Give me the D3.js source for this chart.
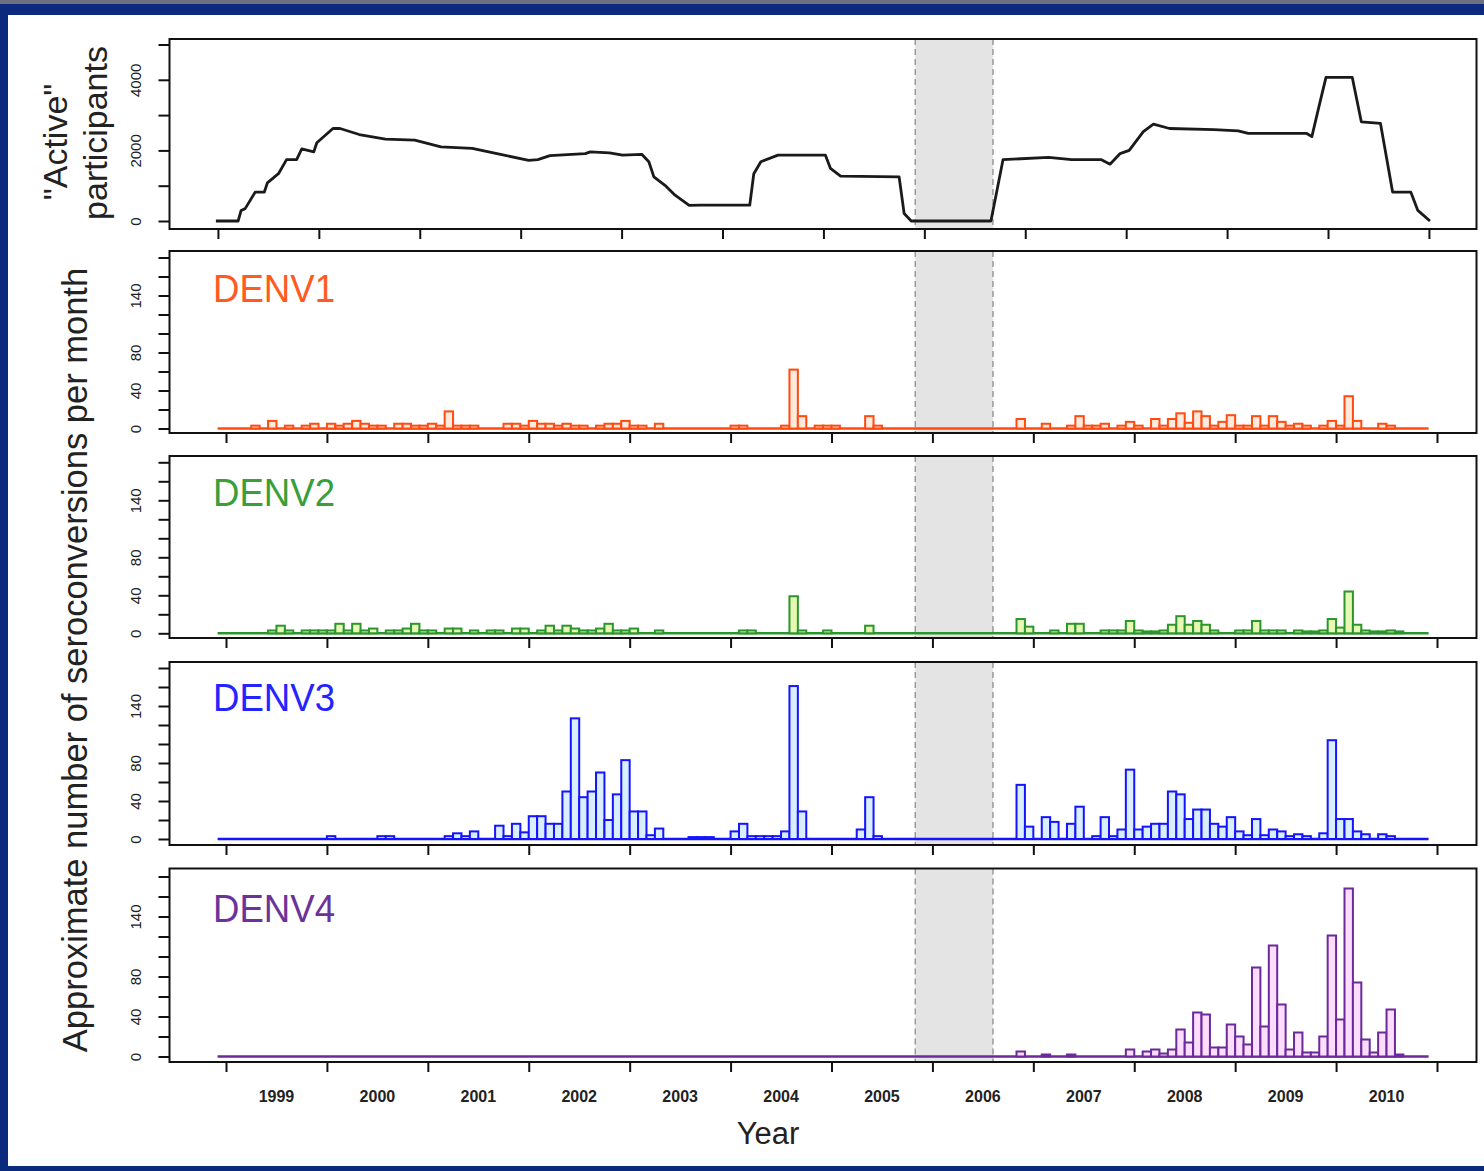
<!DOCTYPE html>
<html>
<head>
<meta charset="utf-8">
<script src="https://cdn.jsdelivr.net/npm/d3@7"></script>
<style>
  body { margin: 0; background: #0b2a7d; }
  svg { display: block; font-family: "Liberation Sans", Arial, Helvetica, sans-serif; }
</style>
</head>
<body>
<svg id="chart" width="1484" height="1171"></svg>
<script>
// monthly bins, first bin = Dec 1998, 144 months (to Nov 2010)
const firstMonth = 1998 + 11 / 12;
const nMonths = 144;

// seroconversions per month, one row of 12 per line
const denv1 = [
  0,0,0,0,3,0,8,0,3,0,3,5,
  0,5,3,5,8,5,3,3,0,5,5,3,
  3,5,3,18,3,3,3,0,0,0,5,5,
  3,8,5,5,3,5,3,3,0,3,5,5,
  8,3,3,0,5,0,0,0,0,0,0,0,
  0,3,3,0,0,0,0,3,62,13,0,3,
  3,3,0,0,0,13,3,0,0,0,0,0,
  0,0,0,0,0,0,0,0,0,0,0,10,
  0,0,5,0,0,3,13,3,3,5,0,3,
  7,3,0,10,3,10,16,6,18,13,3,7,
  14,3,3,13,3,13,7,3,5,3,0,3,
  8,3,34,8,0,0,5,3,0,0,0,0
];
const denv2 = [
  0,0,0,0,0,0,3,8,3,0,3,3,
  3,3,10,3,10,3,5,0,3,3,5,10,
  3,3,0,5,5,0,3,0,3,3,0,5,
  5,0,3,8,3,8,5,3,3,5,10,3,
  3,5,0,0,3,0,0,0,0,0,0,0,
  0,0,3,3,0,0,0,0,39,3,0,0,
  3,0,0,0,0,8,0,0,0,0,0,0,
  0,0,0,0,0,0,0,0,0,0,0,15,
  7,0,0,3,0,10,10,0,0,3,3,3,
  13,3,2,2,3,9,18,9,13,9,3,0,
  0,3,3,13,3,3,3,0,3,2,2,3,
  15,6,44,9,3,2,2,3,2,0,0,0
];
const denv3 = [
  0,0,0,0,0,0,0,0,0,0,0,0,
  0,3,0,0,0,0,0,3,3,0,0,0,
  0,0,0,3,6,3,8,0,0,14,3,16,
  7,24,24,16,16,50,127,44,50,70,20,47,
  83,29,29,4,11,0,0,0,2,2,2,0,
  0,8,16,3,3,3,3,8,161,29,0,0,
  0,0,0,0,10,44,3,0,0,0,0,0,
  0,0,0,0,0,0,0,0,0,0,0,57,
  13,0,23,18,0,16,34,0,3,23,3,10,
  73,10,13,16,16,50,47,21,31,31,16,13,
  23,8,4,21,4,10,8,3,5,3,0,6,
  104,21,21,8,5,0,5,3,0,0,0,0
];
const denv4 = [
  0,0,0,0,0,0,0,0,0,0,0,0,
  0,0,0,0,0,0,0,0,0,0,0,0,
  0,0,0,0,0,0,0,0,0,0,0,0,
  0,0,0,0,0,0,0,0,0,0,0,0,
  0,0,0,0,0,0,0,0,0,0,0,0,
  0,0,0,0,0,0,0,0,0,0,0,0,
  0,0,0,0,0,0,0,0,0,0,0,0,
  0,0,0,0,0,0,0,0,0,0,0,5,
  0,0,2,0,0,2,0,0,0,0,0,0,
  7,0,5,7,3,7,27,14,44,42,9,9,
  32,20,12,89,30,111,52,7,24,4,4,20,
  121,37,168,74,17,4,24,47,2,0,0,0
];

// "active" participants (decimal year, count)
const activeYear = [1998.90,1999.12,1999.15,1999.19,1999.29,1999.38,1999.41,1999.52,1999.60,1999.70,
  1999.75,1999.87,1999.90,2000.06,2000.13,2000.32,2000.58,2000.87,2001.13,2001.44,2001.72,2002.00,
  2002.09,2002.21,2002.56,2002.61,2002.80,2002.93,2003.12,2003.19,2003.24,2003.35,2003.45,2003.59,
  2003.70,2004.19,2004.23,2004.30,2004.47,2004.94,2004.99,2005.09,2005.67,2005.72,2005.79,2006.58,
  2006.70,2007.15,2007.38,2007.67,2007.76,2007.86,2007.95,2008.09,2008.19,2008.35,2008.79,2009.03,
  2009.13,2009.71,2009.76,2009.83,2009.90,2010.16,2010.25,2010.44,2010.56,2010.74,2010.81,2010.93];
const activeCount = [0,0,300,350,820,820,1080,1340,1740,1740,
  2040,1960,2215,2620,2620,2450,2320,2290,2100,2055,1885,1720,
  1740,1850,1910,1960,1930,1865,1890,1680,1250,1010,730,445,
  450,450,1340,1680,1865,1865,1490,1270,1250,210,0,0,
  1740,1800,1740,1740,1610,1910,2000,2530,2745,2620,2590,2555,
  2480,2480,2390,3240,4070,4070,2810,2765,820,820,300,0];

const yearTicks = d3.range(1999, 2012);
const yearLabels = d3.range(1999, 2011);
const topTicks = d3.range(13).map(k => 1998.92 + k);
const countTicks = [0, 1000, 2000, 3000, 4000, 5000];
const countLabels = [0, 2000, 4000];
const seroTicks = [0, 20, 40, 60, 80, 100, 120, 140, 160, 180];
const seroLabels = [0, 40, 80, 140];
const gapStart = 2005.83, gapEnd = 2006.60;

const svg = d3.select("#chart");

// page background like the slide
svg.append("rect").attr("width", 1484).attr("height", 1171).attr("fill", "#0b2a7d");
svg.append("rect").attr("width", 1484).attr("height", 4).attr("fill", "#6b7180");
svg.append("rect").attr("x", 8).attr("y", 15).attr("width", 1476).attr("height", 1151).attr("fill", "#fff");

const x = d3.scaleLinear().domain([1999, 2011]).range([226, 1437]);
const frameL = 169.5, frameR = 1476.5;
const monthStart = i => firstMonth + i / 12;

function drawGap(g, y1, y2) {
  g.append("rect")
    .attr("x", x(gapStart)).attr("y", y1)
    .attr("width", x(gapEnd) - x(gapStart)).attr("height", y2 - y1)
    .attr("fill", "#e4e4e4");
  [gapStart, gapEnd].forEach(t => {
    g.append("line")
      .attr("x1", x(t)).attr("x2", x(t)).attr("y1", y1).attr("y2", y2)
      .attr("stroke", "#9a9a9a").attr("stroke-width", 1.5).attr("stroke-dasharray", "6,4");
  });
}

function drawFrame(g, y1, y2) {
  g.append("rect")
    .attr("x", frameL).attr("y", y1)
    .attr("width", frameR - frameL).attr("height", y2 - y1)
    .attr("fill", "none").attr("stroke", "#111").attr("stroke-width", 2);
}

function yAxis(g, scale, ticks, labels) {
  const ax = g.append("g")
    .attr("transform", `translate(${frameL},0)`)
    .call(d3.axisLeft(scale).tickValues(ticks).tickSize(11)
      .tickFormat(d => labels.includes(d) ? d : ""));
  ax.select(".domain").remove();
  ax.selectAll("line").attr("stroke", "#111").attr("stroke-width", 2);
  ax.selectAll("text")
    .attr("transform", "rotate(-90)")
    .attr("x", 0).attr("y", -29).attr("dy", 0)
    .attr("text-anchor", "middle")
    .attr("font-size", 15).attr("fill", "#222");
}

function xTicks(g, ticks, y0) {
  const ax = g.append("g")
    .attr("transform", `translate(0,${y0})`)
    .call(d3.axisBottom(x).tickValues(ticks).tickSize(10).tickFormat(""));
  ax.select(".domain").remove();
  ax.selectAll("line").attr("stroke", "#111").attr("stroke-width", 2);
}

// ---- top panel: active participants
const topPanel = { top: 39, bottom: 229 };
const yTop = d3.scaleLinear().domain([0, 5000]).range([221, 44.5]);
const gTop = svg.append("g");
drawGap(gTop, topPanel.top, topPanel.bottom);
gTop.append("path")
  .datum(activeYear.map((t, i) => [t, activeCount[i]]))
  .attr("d", d3.line().x(d => x(d[0])).y(d => yTop(d[1])))
  .attr("fill", "none").attr("stroke", "#1a1a1a").attr("stroke-width", 2.8)
  .attr("stroke-linejoin", "round");
drawFrame(gTop, topPanel.top, topPanel.bottom);
yAxis(gTop, yTop, countTicks, countLabels);
xTicks(gTop, topTicks, topPanel.bottom);

// ---- serotype panels
const panels = [
  { name: "DENV1", values: denv1, stroke: "#ff4a12", fill: "#ffeadb", text: "#ff5a22", zero: 428.5, max: 257.5, top: 251, bottom: 433, lab: 51 },
  { name: "DENV2", values: denv2, stroke: "#2b962b", fill: "#e6f8b4", text: "#3a9e3a", zero: 633.3, max: 462.3, top: 456, bottom: 638, lab: 50 },
  { name: "DENV3", values: denv3, stroke: "#1414ff", fill: "#d9efff", text: "#2424ff", zero: 839, max: 668, top: 662, bottom: 845, lab: 49 },
  { name: "DENV4", values: denv4, stroke: "#6a2a9a", fill: "#fcdcff", text: "#6b3399", zero: 1056.5, max: 876.5, top: 868.5, bottom: 1062, lab: 53 }
];

panels.forEach(p => {
  const y = d3.scaleLinear().domain([0, 180]).range([p.zero, p.max]);
  const g = svg.append("g");
  drawGap(g, p.top, p.bottom);

  g.append("line")
    .attr("x1", x(monthStart(0))).attr("x2", x(monthStart(nMonths)))
    .attr("y1", y(0)).attr("y2", y(0))
    .attr("stroke", p.stroke).attr("stroke-width", 2.5);

  g.selectAll("rect.bar")
    .data(p.values.map((v, i) => ({ i, v })).filter(d => d.v > 0))
    .join("rect")
    .attr("class", "bar")
    .attr("x", d => x(monthStart(d.i)))
    .attr("width", d => x(monthStart(d.i + 1)) - x(monthStart(d.i)))
    .attr("y", d => y(d.v))
    .attr("height", d => y(0) - y(d.v))
    .attr("fill", p.fill).attr("stroke", p.stroke).attr("stroke-width", 2);

  drawFrame(g, p.top, p.bottom);
  yAxis(g, y, seroTicks, seroLabels);
  xTicks(g, yearTicks, p.bottom);

  g.append("text")
    .attr("x", 213).attr("y", p.top + p.lab)
    .attr("font-size", 38).attr("textLength", 122).attr("lengthAdjust", "spacingAndGlyphs")
    .attr("fill", p.text).text(p.name);
});

// year labels under the last panel
svg.append("g").selectAll("text")
  .data(yearLabels)
  .join("text")
  .attr("x", d => x(d + 0.5)).attr("y", 1102)
  .attr("text-anchor", "middle").attr("font-size", 16).attr("font-weight", "bold")
  .attr("fill", "#222")
  .text(d => d);

// axis titles
svg.append("text").attr("x", 768).attr("y", 1144)
  .attr("text-anchor", "middle").attr("font-size", 31).attr("fill", "#222").text("Year");

svg.append("text")
  .attr("transform", "translate(87,660) rotate(-90)")
  .attr("text-anchor", "middle").attr("font-size", 34.5).attr("fill", "#222")
  .text("Approximate number of seroconversions per month");

svg.append("text")
  .attr("transform", "translate(67,142) rotate(-90)")
  .attr("text-anchor", "middle").attr("font-size", 34).attr("fill", "#222")
  .text("\"Active\"");
svg.append("text")
  .attr("transform", "translate(107,133) rotate(-90)")
  .attr("text-anchor", "middle").attr("font-size", 34).attr("fill", "#222")
  .text("participants");
</script>
</body>
</html>
